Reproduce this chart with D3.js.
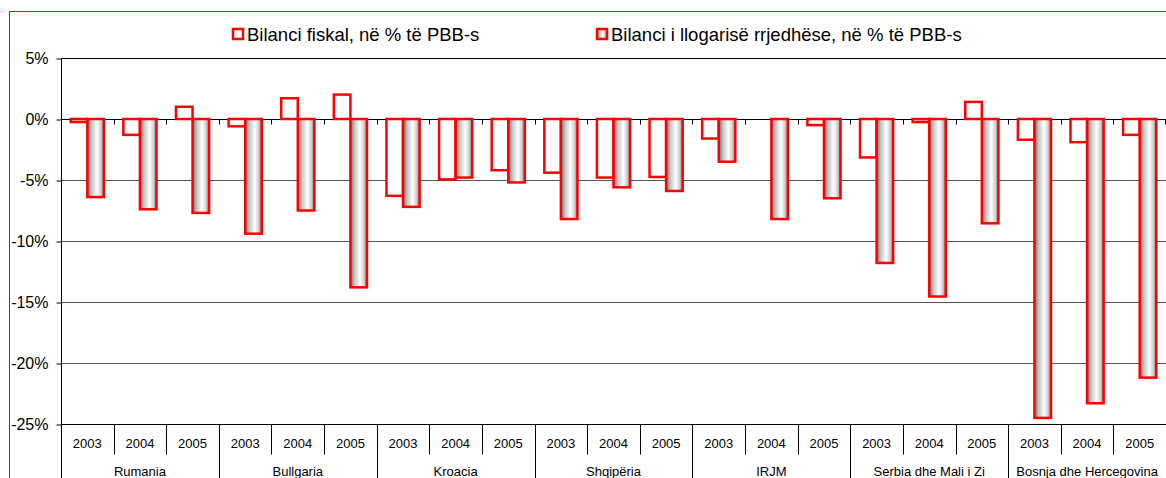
<!DOCTYPE html>
<html>
<head>
<meta charset="utf-8">
<script src="https://cdn.jsdelivr.net/npm/d3@7"></script>
<style>
  body { margin: 0; background: #fff; }
  text { font-family: "Liberation Sans", Arial, sans-serif; fill: #000; }
</style>
</head>
<body>
<div id="chart"></div>
<script>
// data
const countries = ["Rumania", "Bullgaria", "Kroacia", "Shqipëria", "IRJM", "Serbia dhe Mali i Zi", "Bosnja dhe Hercegovina"];
const years = ["2003", "2004", "2005"];
const fiscal = [-0.25, -1.3, 1.0, -0.6, 1.7, 2.0, -6.3, -4.95, -4.2, -4.4, -4.8, -4.75, -1.6, 0, -0.5, -3.15, -0.25, 1.4, -1.7, -1.9, -1.3];
const current = [-6.4, -7.4, -7.7, -9.4, -7.5, -13.8, -7.2, -4.8, -5.2, -8.2, -5.6, -5.9, -3.5, -8.2, -6.5, -11.8, -14.55, -8.55, -24.5, -23.3, -21.2];
const yTicks = [5, 0, -5, -10, -15, -20, -25];
const seriesNames = ["Bilanci fiskal, në % të PBB-s", "Bilanci i llogarisë rrjedhëse, në % të PBB-s"];

const width = 1166, height = 478;
const margin = { top: 58, right: 0, bottom: 54, left: 61 };

const svg = d3.select("#chart").append("svg")
  .attr("width", width)
  .attr("height", height);

// gradient for the current account bars
const grad = svg.append("defs").append("linearGradient")
  .attr("id", "barGrad")
  .attr("x1", "0%").attr("x2", "100%").attr("y1", "0%").attr("y2", "0%");
[[0, "#6e6e6e"], [0.25, "#c4c4c4"], [0.58, "#ffffff"], [0.82, "#cfcfcf"], [1, "#777"]]
  .forEach(s => grad.append("stop").attr("offset", s[0]).attr("stop-color", s[1]));

// red frame
svg.append("rect")
  .attr("x", 9.5).attr("y", 11.5)
  .attr("width", 1200).attr("height", 520)
  .attr("fill", "none").attr("stroke", "#ff0000");

// one slot per country/year
const cats = [];
countries.forEach(c => years.forEach(y => cats.push(c + "|" + y)));

const x = d3.scaleBand()
  .domain(cats)
  .range([margin.left, width - margin.right]);

const y = d3.scaleLinear()
  .domain([-25, 5])
  .range([height - margin.bottom, margin.top]);

// gridlines
svg.append("g")
  .selectAll("line")
  .data(yTicks.filter(d => d !== 0))
  .join("line")
  .attr("x1", margin.left).attr("x2", width)
  .attr("y1", d => Math.round(y(d)) + 0.5).attr("y2", d => Math.round(y(d)) + 0.5)
  .attr("stroke", d => d === 5 ? "#000" : "#555");

// y axis
const yAxis = svg.append("g")
  .attr("transform", `translate(${margin.left + 0.5},0.5)`)
  .call(d3.axisLeft(y).tickValues(yTicks).tickSize(5).tickPadding(8).tickFormat(d => d + "%"));
yAxis.select(".domain").attr("d", `M-0,${Math.round(y(5))}V${height}`).attr("stroke", "#000");
yAxis.selectAll(".tick line").attr("stroke", "#000");
yAxis.selectAll(".tick text").style("font-size", "16px").attr("fill", "#000");

// zero line with ticks between categories
const zeroY = Math.round(y(0)) + 0.5;
svg.append("line")
  .attr("x1", margin.left).attr("x2", width)
  .attr("y1", zeroY).attr("y2", zeroY)
  .attr("stroke", "#000");
svg.append("g")
  .selectAll("line")
  .data(cats.slice(1).concat(["end"]))
  .join("line")
  .attr("x1", d => Math.round(d === "end" ? width - 1 : x(d)) + 0.5)
  .attr("x2", d => Math.round(d === "end" ? width - 1 : x(d)) + 0.5)
  .attr("y1", zeroY).attr("y2", zeroY + 5)
  .attr("stroke", "#000");

// bars
const bw = x.bandwidth() * 0.315;
const bars = svg.append("g");

bars.selectAll(".fiscal")
  .data(fiscal)
  .join("rect")
  .attr("class", "fiscal")
  .attr("x", (d, i) => x(cats[i]) + x.bandwidth() / 2 - bw)
  .attr("y", d => y(Math.max(0, d)))
  .attr("width", bw)
  .attr("height", d => Math.abs(y(d) - y(0)))
  .attr("fill", "#fff")
  .attr("stroke", "#ff0000")
  .attr("stroke-width", 2.5);

bars.selectAll(".current")
  .data(current)
  .join("rect")
  .attr("class", "current")
  .attr("x", (d, i) => x(cats[i]) + x.bandwidth() / 2)
  .attr("y", d => y(Math.max(0, d)))
  .attr("width", bw)
  .attr("height", d => Math.abs(y(d) - y(0)))
  .attr("fill", "url(#barGrad)")
  .attr("stroke", "#ff0000")
  .attr("stroke-width", 2.5);

// category table under the plot
const baseY = Math.round(y(-25)) + 0.5;
svg.append("line")
  .attr("x1", margin.left).attr("x2", width)
  .attr("y1", baseY).attr("y2", baseY)
  .attr("stroke", "#000");

const sep = svg.append("g");
cats.forEach((c, i) => {
  const xs = Math.round(x(c)) + 0.5;
  sep.append("line")
    .attr("x1", xs).attr("x2", xs)
    .attr("y1", baseY).attr("y2", i % 3 === 0 ? height : baseY + 30)
    .attr("stroke", "#000");
});

svg.append("g")
  .selectAll("text")
  .data(cats)
  .join("text")
  .attr("x", d => x(d) + x.bandwidth() / 2)
  .attr("y", baseY + 23)
  .attr("text-anchor", "middle")
  .style("font-size", "13px")
  .text(d => d.split("|")[1]);

svg.append("g")
  .selectAll("text")
  .data(countries)
  .join("text")
  .attr("x", d => (x(d + "|2003") + x(d + "|2005") + x.bandwidth()) / 2)
  .attr("y", baseY + 51)
  .attr("text-anchor", "middle")
  .style("font-size", "13px")
  .text(d => d);

// legend
const legendX = [232, 596];
const legend = svg.append("g");
seriesNames.forEach((name, i) => {
  legend.append("rect")
    .attr("x", legendX[i] + 1).attr("y", 29)
    .attr("width", 10).attr("height", 10)
    .attr("fill", i === 0 ? "#fff" : "url(#barGrad)")
    .attr("stroke", "#ff0000")
    .attr("stroke-width", 2.5);
  legend.append("text")
    .attr("x", legendX[i] + 15)
    .attr("y", 41)
    .style("font-size", "18.5px")
    .text(name);
});
</script>
</body>
</html>
